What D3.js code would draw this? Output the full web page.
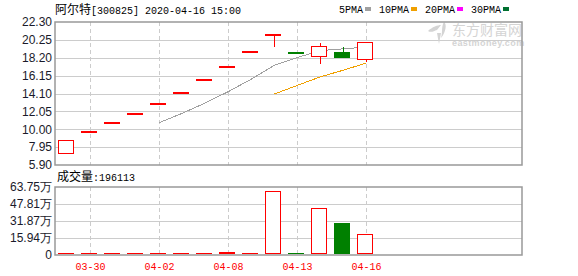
<!DOCTYPE html>
<html>
<head>
<meta charset="utf-8">
<script src="https://cdn.jsdelivr.net/npm/d3@7"></script>
<style>
  body { margin: 0; background: #fff; }
  svg { display: block; }
</style>
</head>
<body>
<div id="chart"></div>
<script>
// daily bars
var dates = ['03-27','03-30','03-31','04-01','04-02','04-03','04-07','04-08','04-09','04-10','04-13','04-14','04-15','04-16'];
var opens  = [7.35, 9.70, 10.67, 11.74, 12.91, 14.20, 15.62, 17.18, 18.90, 20.79, 18.71, 18.30, 18.85, 18.04];
var closes = [8.82, 9.70, 10.67, 11.74, 12.91, 14.20, 15.62, 17.18, 18.90, 20.79, 18.71, 19.50, 18.20, 20.00];
var highs  = [8.82, 9.70, 10.67, 11.74, 12.91, 14.20, 15.62, 17.18, 18.90, 20.79, 18.71, 19.86, 19.40, 20.00];
var lows   = [7.35, 9.70, 10.67, 11.74, 12.91, 14.20, 15.62, 17.18, 18.90, 19.40, 18.71, 17.50, 18.20, 17.70];
// volume in 万
var volumes = [0.6, 0.5, 0.5, 0.6, 0.6, 0.7, 0.8, 2.4, 1.0, 59.7, 1.8, 43.8, 30.0, 19.61];
var ma5  = [null, null, null, null, 10.77, 11.84, 13.03, 14.33, 15.76, 17.34, 18.24, 19.02, 19.22, 19.44];
var ma10 = [null, null, null, null, null, null, null, null, null, 14.05, 15.04, 16.02, 16.78, 17.60];

var priceTicks = [5.90, 7.95, 10.00, 12.05, 14.10, 16.15, 18.20, 20.25, 22.30];
var volTicks = [0, 15.94, 31.87, 47.81, 63.75];
var volTickLabels = ['0', '15.94万', '31.87万', '47.81万', '63.75万'];
var dateTicks = ['03-30', '04-02', '04-08', '04-13', '04-16'];
var legendNames = ['5PMA', '10PMA', '20PMA', '30PMA'];
var legendColors = ['#a0a0a0', '#f0a000', '#ff00ff', '#007030'];

var title = '阿尔特';
var titleRest = '[300825] 2020-04-16 15:00';
var volLabel = '成交量';
var volValue = ':196113';

var width = 578, height = 276;
var left = 55, right = 522;
var RED = '#ff0000', GREEN = '#008000';
var mono = '"Liberation Mono", "DejaVu Sans Mono", monospace';
var cjk = '"Noto Sans CJK SC", sans-serif';

var svg = d3.select('#chart').append('svg')
  .attr('width', width)
  .attr('height', height);

// 20 slots, only the first 14 used
var x = d3.scaleBand()
  .domain(d3.range(20))
  .range([left, left + 460])
  .paddingInner(0.3)
  .paddingOuter(0.15);
var bw = x.bandwidth();
var cx = i => Math.round(x(i) + bw / 2) + 0.5;

var y = d3.scaleLinear().domain([5.90, 22.30]).range([165, 22]);
var yv = d3.scaleLinear().domain([0, 63.75]).range([255, 187]);

// grid
var grid = svg.append('g');
grid.selectAll('.hp').data(priceTicks.slice(1, -1)).enter().append('line')
  .attr('x1', left).attr('x2', right)
  .attr('y1', d => Math.round(y(d)) + 0.5).attr('y2', d => Math.round(y(d)) + 0.5)
  .attr('stroke', '#cccccc');
grid.selectAll('.hv').data(volTicks.slice(1, -1)).enter().append('line')
  .attr('x1', left).attr('x2', right)
  .attr('y1', d => Math.round(yv(d)) + 0.5).attr('y2', d => Math.round(yv(d)) + 0.5)
  .attr('stroke', '#cccccc');
dateTicks.forEach(function(t) {
  var i = dates.indexOf(t);
  [[22, 165], [187, 255]].forEach(function(r) {
    grid.append('line')
      .attr('x1', cx(i)).attr('x2', cx(i))
      .attr('y1', r[0]).attr('y2', r[1])
      .attr('stroke', '#cccccc')
      .attr('stroke-dasharray', '4,3');
  });
});

// watermark
var wm = svg.append('g').attr('fill', '#d4d4d4');
wm.append('path')
  .attr('d', 'M428,31 C432,27 438,25 441,25 L437,30 C434,31 431,33 428,31 Z M444,22 C447,24 446,32 441,38 C443,31 441,27 444,22 Z M437,33 L441,33 L439,44 Z');
wm.append('text')
  .attr('x', 452).attr('y', 35)
  .attr('font-family', cjk).attr('font-size', 14)
  .text('东方财富网');
wm.append('text')
  .attr('x', 452).attr('y', 46)
  .attr('font-family', '"Liberation Sans", Arial, sans-serif')
  .attr('font-size', 9).attr('font-weight', 'bold')
  .attr('letter-spacing', 0.4)
  .text('eastmoney.com');

// moving averages
var line = d3.line()
  .defined(d => d.v != null)
  .x(d => cx(d.i))
  .y(d => y(d.v));
[[ma5, legendColors[0]], [ma10, legendColors[1]]].forEach(function(m) {
  svg.append('path')
    .datum(m[0].map((v, i) => ({ i: i, v: v })))
    .attr('d', line)
    .attr('fill', 'none')
    .attr('stroke', m[1])
    .attr('stroke-width', 1)
    .attr('shape-rendering', 'crispEdges');
});

// candles
var bars = dates.map(function(d, i) {
  var o = opens[i], c = closes[i];
  var prev = i > 0 ? closes[i - 1] : o;
  var up = c > o || (c === o && c >= prev);
  return { i: i, o: o, c: c, h: highs[i], l: lows[i], v: volumes[i], up: up };
});

var candles = svg.append('g').attr('shape-rendering', 'crispEdges');
bars.forEach(function(b) {
  var col = b.up ? RED : GREEN;
  var top = y(Math.max(b.o, b.c)), bot = y(Math.min(b.o, b.c));
  var xc = cx(b.i);
  if (b.h > Math.max(b.o, b.c))
    candles.append('line').attr('x1', xc).attr('x2', xc)
      .attr('y1', y(b.h)).attr('y2', top).attr('stroke', col);
  if (b.l < Math.min(b.o, b.c))
    candles.append('line').attr('x1', xc).attr('x2', xc)
      .attr('y1', bot).attr('y2', y(b.l)).attr('stroke', col);
  if (bot - top < 2) {
    candles.append('rect')
      .attr('x', Math.round(x(b.i))).attr('width', Math.round(bw))
      .attr('y', Math.round(top) - 1).attr('height', 2)
      .attr('fill', col);
  } else if (b.up) {
    candles.append('rect')
      .attr('x', Math.round(x(b.i)) + 0.5).attr('width', Math.round(bw) - 1)
      .attr('y', Math.round(top) + 0.5).attr('height', Math.round(bot - top))
      .attr('fill', '#fff').attr('stroke', col);
  } else {
    candles.append('rect')
      .attr('x', Math.round(x(b.i))).attr('width', Math.round(bw))
      .attr('y', Math.round(top)).attr('height', Math.round(bot - top))
      .attr('fill', col);
  }
});

// volume bars
var vol = svg.append('g').attr('shape-rendering', 'crispEdges');
bars.forEach(function(b) {
  var top = Math.round(yv(b.v));
  var h = Math.max(1, 254 - top);
  if (b.up) {
    if (h < 3) {
      vol.append('rect').attr('x', Math.round(x(b.i))).attr('width', Math.round(bw))
        .attr('y', 254 - h).attr('height', h).attr('fill', RED);
    } else {
      vol.append('rect')
        .attr('x', Math.round(x(b.i)) + 0.5).attr('width', Math.round(bw) - 1)
        .attr('y', top + 0.5).attr('height', h - 1)
        .attr('fill', '#fff').attr('stroke', RED).attr('stroke-width', 1.5);
    }
  } else {
    vol.append('rect').attr('x', Math.round(x(b.i))).attr('width', Math.round(bw))
      .attr('y', top).attr('height', 254 - top).attr('fill', GREEN);
  }
});

// frames
[[22, 165], [187, 255]].forEach(function(r) {
  svg.append('rect')
    .attr('x', left).attr('y', r[0])
    .attr('width', right - left).attr('height', r[1] - r[0])
    .attr('fill', 'none').attr('stroke', '#999999').attr('stroke-width', 1.5);
});

// y axis labels
var numFont = '"Liberation Sans", Arial, sans-serif';
svg.append('g').selectAll('text').data(priceTicks).enter().append('text')
  .attr('x', 52).attr('y', d => y(d)).attr('dy', '0.36em')
  .attr('text-anchor', 'end')
  .attr('font-family', numFont).attr('font-size', 12).attr('fill', '#1a1a2a')
  .text(d => d.toFixed(2));
svg.append('g').selectAll('text').data(volTicks).enter().append('text')
  .attr('x', 52).attr('y', d => yv(d)).attr('dy', '0.36em')
  .attr('text-anchor', 'end')
  .attr('font-family', numFont).attr('font-size', 12).attr('fill', '#1a1a2a')
  .text((d, i) => volTickLabels[i]);

// date labels
svg.append('g').selectAll('text').data(dateTicks).enter().append('text')
  .attr('x', d => cx(dates.indexOf(d)))
  .attr('y', 270)
  .attr('text-anchor', 'middle')
  .attr('font-family', mono).attr('font-size', 10).attr('fill', RED)
  .text(d => d);

// title
var t = svg.append('text').attr('x', 55).attr('y', 14).attr('fill', '#000');
t.append('tspan').attr('font-family', cjk).attr('font-size', 12).text(title);
t.append('tspan').attr('font-family', mono).attr('font-size', 10).text(titleRest);

var vt = svg.append('text').attr('x', 57).attr('y', 181).attr('fill', '#000');
vt.append('tspan').attr('font-family', cjk).attr('font-size', 12).text(volLabel);
vt.append('tspan').attr('font-family', mono).attr('font-size', 10).text(volValue);

// legend
var lx = 339;
legendNames.forEach(function(n, i) {
  var g = svg.append('g').attr('transform', 'translate(' + lx + ',0)');
  g.append('text').attr('x', 0).attr('y', 13)
    .attr('font-family', mono).attr('font-size', 10).attr('fill', '#000')
    .text(n);
  var w = n.length * 6;
  g.append('rect').attr('x', w + 2).attr('y', 7).attr('width', 6).attr('height', 4)
    .attr('fill', legendColors[i]);
  lx += w + 16;
});
</script>
</body>
</html>
